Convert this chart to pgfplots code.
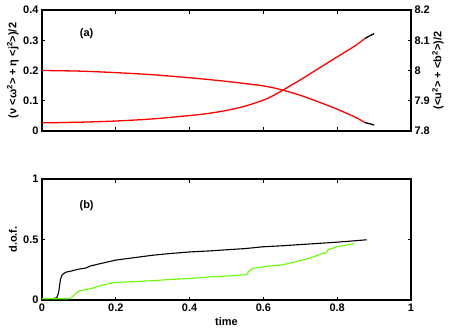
\documentclass[border=0pt]{standalone}
\usepackage{fontspec}
\setmainfont{Liberation Sans}
\usepackage{pgfplots}
\pgfplotsset{compat=1.18}

\definecolor{mred}{rgb}{1,0,0}
\definecolor{mgreen}{rgb}{0.4,1,0}
\newcommand{\lblfont}{\fontsize{11}{13}\selectfont\bfseries}

\pgfplotsset{
  panel/.style={
    scale only axis, width=369bp, height=121bp,
    xmin=0, xmax=1,
    tick align=inside, major tick length=3.5bp,
    axis line style={line width=1.1bp},
    every tick/.style={black, line width=0.9bp},
    tick label style={font=\lblfont},
    label style={font=\lblfont},
    xtick={0,0.2,0.4,0.6,0.8,1},
  },
}

\begin{document}
\begin{tikzpicture}
\useasboundingbox (-42bp,-31bp) rectangle (410bp,300bp);

% (a) left axis
\begin{axis}[panel, at={(0,169bp)},
  ymin=0, ymax=0.4, ytick={0,0.1,0.2,0.3,0.4},
  yticklabels={0,0.1,0.2,0.3,0.4}, xticklabels={},
  ytick pos=left,
  ylabel={(ν <ω\textsuperscript{2}> + η <j\textsuperscript{2}>)/2},
  ylabel style={at={(axis description cs:-0.079,0.5)}, anchor=center},
]
\addplot[black, line width=1.3bp] coordinates {(0.875,0.306)(0.9,0.322)};
\addplot[mred, line width=1.3bp, smooth] coordinates {
  (0,0.027)(0.1,0.029)(0.2,0.033)(0.3,0.040)(0.4,0.051)(0.45,0.058)(0.5,0.068)
  (0.55,0.082)(0.6,0.102)(0.625,0.116)(0.65,0.133)(0.7,0.169)(0.75,0.207)
  (0.8,0.245)(0.85,0.283)(0.875,0.306)};
\node[font=\lblfont] at (axis cs:0.121,0.323) {(a)};
\end{axis}

% (a) right axis
\begin{axis}[panel, at={(0,169bp)},
  axis x line=none, axis y line*=right,
  ymin=7.8, ymax=8.2, ytick={7.8,7.9,8,8.1,8.2},
  yticklabels={7.8,7.9,8,8.1,8.2},
  ylabel={(<u\textsuperscript{2}> + <b\textsuperscript{2}>)/2},
  ylabel style={at={(axis description cs:1.073,0.5)}, anchor=center},
]
\addplot[black, line width=1.3bp] coordinates {(0.875,7.828)(0.9,7.820)};
\addplot[mred, line width=1.3bp, smooth] coordinates {
  (0,8.000)(0.1,7.998)(0.2,7.993)(0.3,7.986)(0.4,7.976)(0.5,7.964)
  (0.6,7.949)(0.65,7.936)(0.7,7.918)(0.75,7.896)(0.8,7.872)
  (0.85,7.845)(0.875,7.828)};
\end{axis}

% (b)
\begin{axis}[panel, at={(0,0)},
  ymin=0, ymax=1, ytick={0,0.5,1}, yticklabels={0,0.5,1},
  xticklabels={0,0.2,0.4,0.6,0.8,1},
  ylabel={d.o.f.}, xlabel={time},
  ylabel style={at={(axis description cs:-0.079,0.5)}, anchor=center},
  xlabel style={at={(axis description cs:0.5,-0.18)}, anchor=center},
]
\addplot[black, line width=1.1bp] coordinates {
  (0,0.01)(0.03,0.01)(0.04,0.02)(0.045,0.06)(0.05,0.17)(0.055,0.21)
  (0.065,0.23)(0.08,0.24)(0.1,0.255)(0.12,0.265)(0.13,0.28)(0.15,0.295)
  (0.2,0.33)(0.25,0.35)(0.3,0.37)(0.35,0.385)(0.4,0.397)(0.45,0.405)
  (0.5,0.415)(0.55,0.425)(0.6,0.44)(0.65,0.448)(0.7,0.458)(0.75,0.468)
  (0.8,0.478)(0.85,0.49)(0.88,0.498)};
\addplot[mgreen, line width=1.1bp] coordinates {
  (0,0.01)(0.07,0.01)(0.08,0.02)(0.09,0.05)(0.1,0.075)(0.12,0.085)
  (0.14,0.10)(0.16,0.12)(0.18,0.135)(0.2,0.145)(0.25,0.152)(0.3,0.16)
  (0.35,0.17)(0.4,0.178)(0.45,0.19)(0.5,0.198)(0.555,0.21)(0.56,0.235)
  (0.57,0.26)(0.6,0.275)(0.65,0.29)(0.68,0.31)(0.7,0.325)(0.73,0.35)
  (0.76,0.385)(0.77,0.39)(0.775,0.415)(0.8,0.44)(0.845,0.465)};
\node[font=\lblfont] at (axis cs:0.121,0.78) {(b)};
\end{axis}
\end{tikzpicture}
\end{document}
